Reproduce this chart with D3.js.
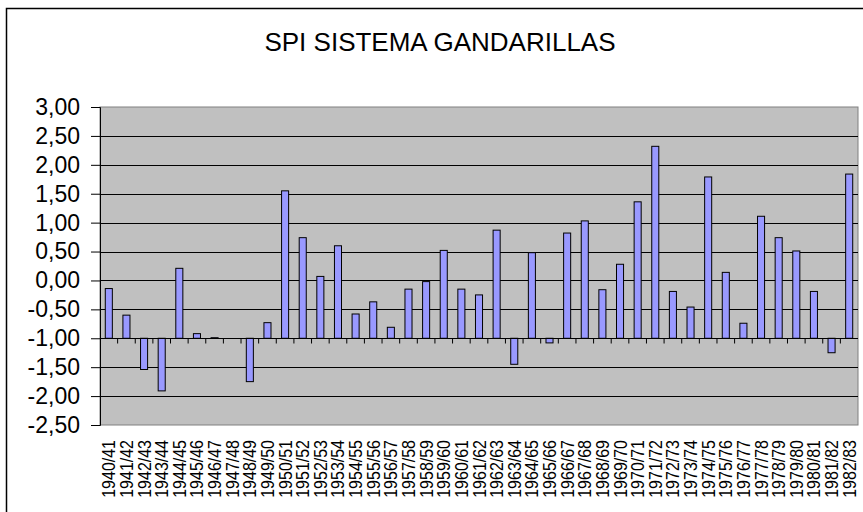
<!DOCTYPE html>
<html lang="es">
<head>
<meta charset="UTF-8">
<title>SPI SISTEMA GANDARILLAS</title>
<style>
    body { margin: 0; background: #fff; }
    svg { display: block; font-family: Arial, "Liberation Sans", sans-serif; }
</style>
</head>
<body>
<svg id="chart"></svg>
<script src="https://cdn.jsdelivr.net/npm/d3@7"></script>
<script>

    var years = ["1940/41","1941/42","1942/43","1943/44","1944/45","1945/46","1946/47","1947/48",
        "1948/49","1949/50","1950/51","1951/52","1952/53","1953/54","1954/55","1955/56","1956/57",
        "1957/58","1958/59","1959/60","1960/61","1961/62","1962/63","1963/64","1964/65","1965/66",
        "1966/67","1967/68","1968/69","1969/70","1970/71","1971/72","1972/73","1973/74","1974/75",
        "1975/76","1976/77","1977/78","1978/79","1979/80","1980/81","1981/82","1982/83"];

    var spi = [-0.14, -0.60, -1.54, -1.91, 0.21, -0.92, -0.99, -1.00,
        -1.75, -0.73, 1.55, 0.74, 0.07, 0.60, -0.58, -0.37, -0.81,
        -0.15, -0.02, 0.52, -0.15, -0.25, 0.87, -1.45, 0.48, -1.08,
        0.82, 1.03, -0.16, 0.28, 1.36, 2.32, -0.19, -0.46, 1.79,
        0.14, -0.74, 1.11, 0.74, 0.51, -0.19, -1.25, 1.84];

    var yTicks = [-2.5, -2, -1.5, -1, -0.5, 0, 0.5, 1, 1.5, 2, 2.5, 3];
    var baseline = -1;   // el eje X cruza en -1,00

    var width = 863, height = 512;
    var plot = {left: 100, right: 858, top: 107, bottom: 425};

    var svg = d3.select("#chart")
        .attr("width", width)
        .attr("height", height);

    // marco exterior
    svg.append("rect")
        .attr("x", 6.5).attr("y", 8.5)
        .attr("width", 900).attr("height", 600)
        .attr("fill", "#fff")
        .attr("stroke", "#000")
        .attr("stroke-width", 1.5);

    svg.append("text")
        .attr("x", 440).attr("y", 51)
        .attr("text-anchor", "middle")
        .style("font-size", "26px")
        .text("SPI SISTEMA GANDARILLAS");

    var x = d3.scaleBand()
        .domain(years)
        .range([plot.left, plot.right])
        .paddingInner(0.6)
        .paddingOuter(0.3);

    var y = d3.scaleLinear()
        .domain([-2.5, 3])
        .range([plot.bottom, plot.top]);

    var fmt = d3.formatLocale({decimal: ",", thousands: ".", grouping: [3], currency: ["", "€"], minus: "-"}).format(".2f");

    // fondo del area de trazado
    svg.append("rect")
        .attr("x", plot.left).attr("y", plot.top)
        .attr("width", plot.right - plot.left)
        .attr("height", plot.bottom - plot.top)
        .attr("fill", "#c0c0c0")
        .attr("stroke", "#808080");

    // lineas de division
    svg.selectAll(".grid")
        .data(yTicks.filter(function (d) { return d > -2.5 && d < 3; }))
        .enter()
        .append("line")
        .attr("x1", plot.left).attr("x2", plot.right)
        .attr("y1", function (d) { return Math.round(y(d)) + 0.5; })
        .attr("y2", function (d) { return Math.round(y(d)) + 0.5; })
        .attr("stroke", "#000")
        .attr("stroke-width", 1);

    // eje Y
    var yAxis = d3.axisLeft(y)
        .tickValues(yTicks)
        .tickSize(9)
        .tickPadding(11)
        .tickFormat(fmt);

    var gy = svg.append("g")
        .attr("transform", "translate(" + plot.left + ",0)")
        .call(yAxis);
    gy.select(".domain").attr("stroke", "#000");
    gy.selectAll(".tick line").attr("stroke", "#000");
    gy.selectAll(".tick text")
        .attr("fill", "#000")
        .style("font-size", "23px")
        .style("font-family", "Arial, 'Liberation Sans', sans-serif");

    // barras desde -1,00
    svg.selectAll(".bar")
        .data(spi)
        .enter()
        .append("rect")
        .attr("class", "bar")
        .attr("x", function (d, i) { return x(years[i]); })
        .attr("y", function (d) { return y(Math.max(d, baseline)); })
        .attr("width", x.bandwidth())
        .attr("height", function (d) { return Math.abs(y(d) - y(baseline)); })
        .attr("fill", "#9999ff")
        .attr("stroke", "#000")
        .attr("stroke-width", 1);

    // eje X en -1,00 con marcas entre categorias
    var y0 = Math.round(y(baseline)) + 0.5;
    var step = x.step();
    svg.append("line")
        .attr("x1", plot.left).attr("x2", plot.right)
        .attr("y1", y0).attr("y2", y0)
        .attr("stroke", "#000");

    svg.selectAll(".xtick")
        .data(years.slice(1))
        .enter()
        .append("line")
        .attr("x1", function (d) { return x(d) - step * 0.3; })
        .attr("x2", function (d) { return x(d) - step * 0.3; })
        .attr("y1", y0).attr("y2", y0 + 5)
        .attr("stroke", "#000");

    // etiquetas de las categorias
    svg.selectAll(".xlabel")
        .data(years)
        .enter()
        .append("text")
        .attr("transform", function (d) {
            return "translate(" + (x(d) + x.bandwidth() / 2 + 6.5) + ",440) rotate(-90) scale(1,1.12)";
        })
        .attr("text-anchor", "end")
        .style("font-size", "16px")
        .text(function (d) { return d; });

</script>
</body>
</html>
